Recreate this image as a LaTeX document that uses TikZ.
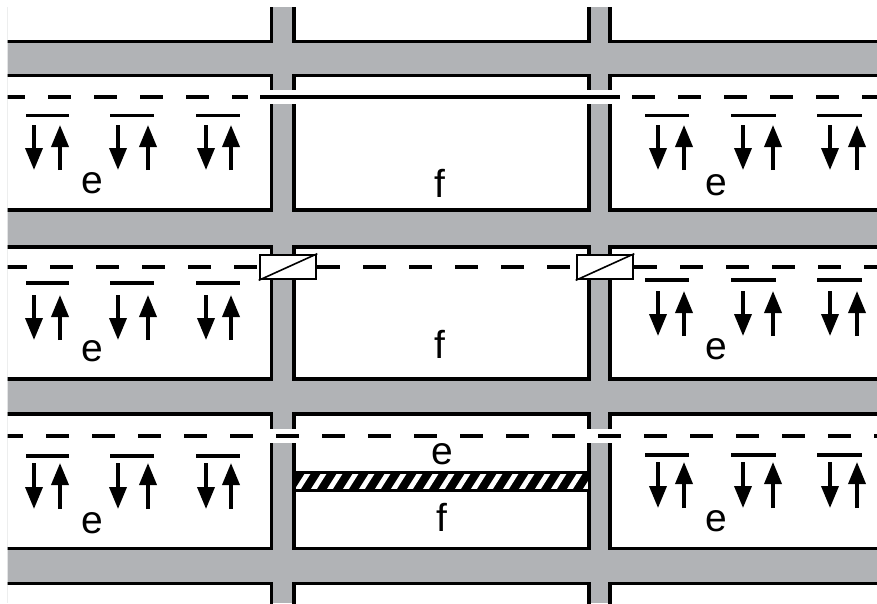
\documentclass[tikz,border=0pt]{standalone}
\usepackage{fontspec}
\setmainfont{Liberation Sans}
\usepackage{tikz}
\usetikzlibrary{arrows.meta}
\usepackage{xcolor}
\definecolor{wallgray}{RGB}{177, 179, 182}

\begin{document}
\begin{tikzpicture}[x=1pt, y=-1pt, font=\fontsize{39}{44}\selectfont,
    room/.style={draw, line width=3.5pt, fill=white},
    gapbox/.style={fill=white, draw=none},
    dashline/.style={line width=4pt, dash pattern=on 23pt off 23pt},
    solidline/.style={line width=4pt},
    barline/.style={line width=3.8pt},
    flow/.style={line width=3.6pt, -{Triangle[length=22pt, width=17pt]}},
    valve/.style={draw, line width=2.6pt, fill=white, minimum width=56pt, minimum height=24pt, inner sep=0pt},
    label/.style={inner sep=0pt}]
  \useasboundingbox (0,0) rectangle (877,603);
  \begin{scope}
    \clip (7.5,7) rectangle (877,603);
    % walls and rooms
    \fill[wallgray] (0,0) rectangle (877,603);
    \foreach \xa/\xb in {-20/271.5, 294/589, 610/900}
      \foreach \ya/\yb in {-20/41.5, 75.5/210, 247/379, 414/548.5, 583.5/640}
        \draw[room] (\xa,\ya) rectangle (\xb,\yb);

    % openings in the columns
    \fill[gapbox] (269,90) rectangle (297,104);
    \fill[gapbox] (586,90) rectangle (613,104);
    \fill[gapbox] (269,429) rectangle (297,443);
    \fill[gapbox] (586,429) rectangle (613,443);

    % first row line
    \draw[dashline] (2,97) -- (248,97);
    \draw[solidline] (260,97) -- (620,97);
    \draw[dashline] (632,97) -- (877,97);

    % second row line with the two valves
    \draw[dashline] (4,267) -- (259,267);
    \draw[dashline] (317,267) -- (576,267);
    \draw[dashline] (634,267) -- (877,267);
    \node[valve] (valveL) at (288,267) {};
    \node[valve] (valveR) at (605,267) {};
    \draw[line width=1.6pt] (valveL.south west) -- (valveL.north east);
    \draw[line width=1.6pt] (valveR.south west) -- (valveR.north east);

    % third row line
    \draw[dashline] (0,436) -- (877,436);
  \end{scope}

  % hatched strip
  \fill (294,472) rectangle (589,490);
  \begin{scope}
    \clip (294,472) rectangle (589,490);
    \foreach \x in {280,296,...,600}
      \draw[white, line width=5pt] (\x,492) -- (\x+14,470);
  \end{scope}
  \draw[line width=3pt] (294,472) rectangle (589,490);

  % bars and arrow pairs, left side
  \foreach \bary/\topy/\boty in {115.5/125/170, 283/295/340, 456/463/509}
    \foreach \xa/\xb/\dn/\up in {26/69/34/60, 110/154/118/148, 196/240/206/231} {
      \draw[barline] (\xa,\bary) -- (\xb,\bary);
      \draw[flow] (\dn,\topy) -- (\dn,\boty);
      \draw[flow] (\up,\boty) -- (\up,\topy);
    }

  % bars and arrow pairs, right side
  \foreach \bary/\topy/\boty in {115.5/125/170, 280/291/336, 455/462/508}
    \foreach \xa/\xb/\dn/\up in {645/689/658/684, 731/776/743/773, 817/862/830/857} {
      \draw[barline] (\xa,\bary) -- (\xb,\bary);
      \draw[flow] (\dn,\topy) -- (\dn,\boty);
      \draw[flow] (\up,\boty) -- (\up,\topy);
    }

  % labels
  \node[label] (eL1) at (92,183) {e};
  \node[label] (fM1) at (440,183) {f};
  \node[label] (eR1) at (716,185) {e};
  \node[label] (eL2) at (92,351) {e};
  \node[label] (fM2) at (440,344) {f};
  \node[label] (eR2) at (716,349) {e};
  \node[label] (eL3) at (92,523) {e};
  \node[label] (eM3) at (442,454) {e};
  \node[label] (fM3) at (442,517) {f};
  \node[label] (eR3) at (716,521) {e};
\end{tikzpicture}
\end{document}
